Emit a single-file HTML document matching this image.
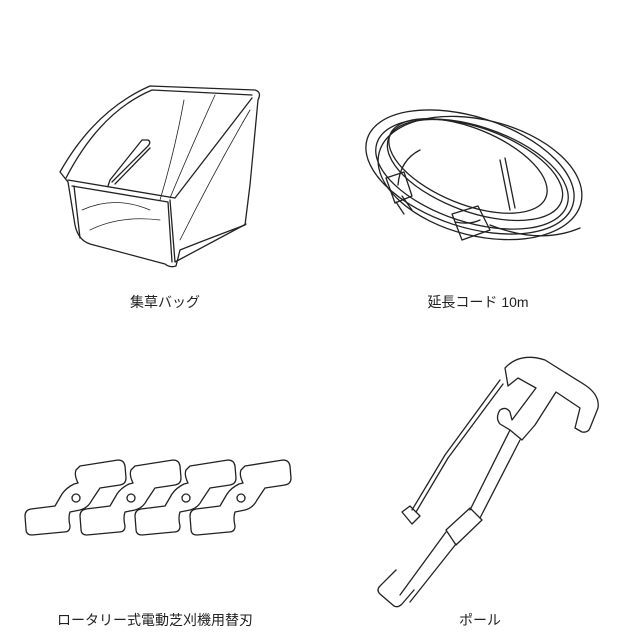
<!DOCTYPE html>
<html><head><meta charset="utf-8"><style>
html,body{margin:0;padding:0;background:#fff;}
.t{font-family:"Liberation Sans","Noto Sans CJK JP",sans-serif;font-size:14px;fill:#222;}
</style></head><body>
<svg width="640" height="639" viewBox="0 0 640 639" xmlns="http://www.w3.org/2000/svg">
<g fill="none" stroke="#222" stroke-width="1.3" stroke-linejoin="round" stroke-linecap="round">
<!-- grass bag -->
<path d="M60 172 Q95 110 150 86 L255 90 Q262 92 258 100 L250 185 L245 225 Q205 240 180 250 L176 266 Q170 268 165 264 L90 244 Q78 240 75 225 L68 182 Z"/>
<path d="M66 178 Q100 112 152 90 L252 95"/>
<path d="M68 180 L175 198 L252 98"/>
<path d="M72 186 L168 202 L172 262"/>
<path d="M74 186 L80 238"/>
<path d="M170 200 L175 262 L246 224"/>
<path d="M112 182 L147 147 Q152 142 148 140 L142 140 L110 180 L108 186"/>
<path d="M115 184 L150 148"/>
<path d="M82 210 Q115 195 150 210 M90 230 Q120 215 160 220 M184 100 Q175 150 160 200 M215 95 Q190 150 170 198 M250 110 Q215 170 180 240" stroke-width="0.8"/>
<!-- cord coils -->
<ellipse cx="470" cy="172" rx="108" ry="55" transform="rotate(18 470 172)"/>
<ellipse cx="472" cy="174" rx="100" ry="48" transform="rotate(18 472 174)"/>
<ellipse cx="475" cy="170" rx="92" ry="42" transform="rotate(20 475 170)"/>
<ellipse cx="480" cy="178" rx="104" ry="58" transform="rotate(14 480 178)"/>
<ellipse cx="468" cy="166" rx="84" ry="38" transform="rotate(22 468 166)"/>
<path d="M500 160 L510 210 M505 158 L515 208"/>
<path d="M420 150 Q400 160 398 185"/>
<path d="M386 178 L404 172 L412 196 L395 203 Z"/>
<path d="M402 196 L412 210 M396 202 L404 214"/>
<path d="M480 220 Q470 225 455 222"/>
<path d="M452 214 L478 206 L490 230 L462 240 Z"/>
<path d="M490 225 Q540 245 580 228"/>
<!-- blades -->
<g id="b">
<path d="M80 466 L118 460 Q124 460 125 466 L126 478 Q126 484 120 485 L100 488 L92 500 Q88 508 80 510 L70 512 Q68 518 70 526 Q70 532 64 532 L32 535 Q26 535 26 529 L25 516 Q25 510 31 509 L55 506 L62 494 Q66 488 74 484 L78 483 Q74 475 76 470 Z"/>
<circle cx="76" cy="498" r="4"/>
</g>
<use href="#b" x="55"/>
<use href="#b" x="110"/>
<use href="#b" x="165"/>
<!-- pole -->
<path d="M505 368 Q520 352 545 360 L585 385 Q600 395 598 408 L590 428 Q588 433 582 432 L575 428 L580 408 L556 392 L535 425 L522 440 L510 430 L500 424 Q495 418 500 410 Q506 406 510 412 L512 420 L536 388 L518 378 L508 386 Z"/>
<path d="M510 430 L470 510 M520 440 L480 518"/>
<path d="M470 508 L446 530 L456 545 L482 520 Z"/>
<path d="M446 532 L400 595 M456 544 L410 602"/>
<path d="M396 570 L380 586 Q376 590 380 594 L394 606 Q398 608 402 604 L414 590"/>
<path d="M500 380 L445 455 L412 510 M503 384 L448 458 L416 512"/>
<path d="M402 512 L410 506 L420 516 L412 524 Z"/>
</g>
<text class="t" x="165" y="307" text-anchor="middle">集草バッグ</text>
<text class="t" x="478" y="307" text-anchor="middle">延長コード 10m</text>
<text class="t" x="155" y="625" text-anchor="middle">ロータリー式電動芝刈機用替刃</text>
<text class="t" x="480" y="625" text-anchor="middle">ポール</text>
</svg>
</body></html>
